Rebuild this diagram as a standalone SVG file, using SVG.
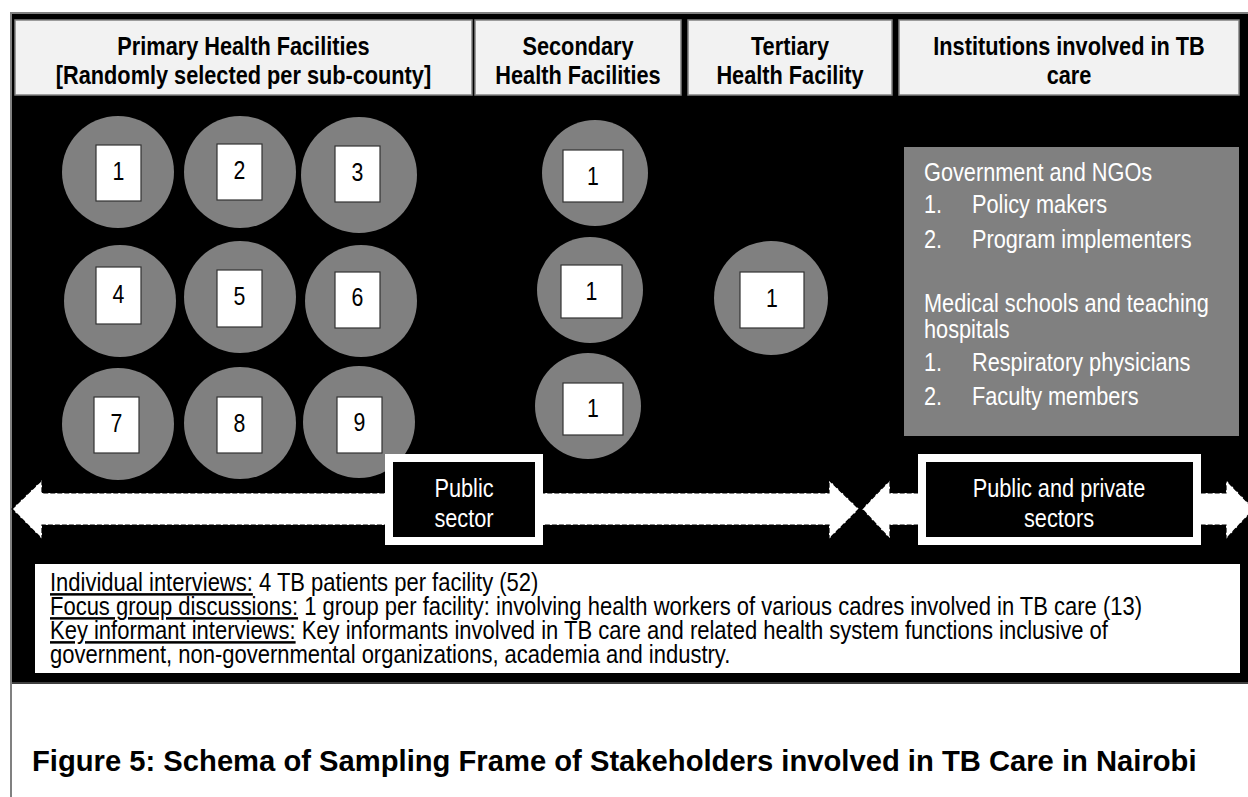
<svg xmlns="http://www.w3.org/2000/svg" width="1248" height="797" viewBox="0 0 1248 797">
<defs>
<style>
.hdr{fill:#f2f2f2;stroke:#808080;stroke-width:1.5;}
.htx{font-family:"Liberation Sans",Arial,sans-serif;font-weight:bold;font-size:26.5px;fill:#000;text-anchor:middle;}
.circ{fill:#808080;}
.nbox{fill:#fff;stroke:#333;stroke-width:1.2;}
.num{font-family:"Liberation Sans",Arial,sans-serif;font-size:26px;fill:#000;text-anchor:middle;}
.inst{font-family:"Liberation Sans",Arial,sans-serif;font-size:26.5px;fill:#fff;}
.arrow{fill:#fff;stroke:#000;stroke-width:1.2;stroke-dasharray:5 2;}
.sbox{fill:#000;stroke:#fff;stroke-width:8;}
.stx{font-family:"Liberation Sans",Arial,sans-serif;font-size:26.5px;fill:#fff;text-anchor:middle;}
.btx{font-family:"Liberation Sans",Arial,sans-serif;font-size:25px;fill:#000;}
.cap{font-family:"Liberation Sans",Arial,sans-serif;font-weight:bold;font-size:29.2px;fill:#000;}
</style>
<clipPath id="hclip"><rect x="12" y="20" width="1236" height="71"/></clipPath>
</defs>
<rect width="1248" height="797" fill="#fff"/>
<g id="frame">
<rect x="12" y="13" width="1236" height="670" fill="#000"/>
<line x1="10" y1="13" x2="1248" y2="13" stroke="#808080" stroke-width="2"/>
<line x1="11" y1="12" x2="11" y2="797" stroke="#808080" stroke-width="2"/>
<line x1="12" y1="683" x2="1248" y2="683" stroke="#404040" stroke-width="2"/>
</g>
<g id="header-primary">
<rect class="hdr" x="15" y="20" width="457" height="75"/>
<g clip-path="url(#hclip)">
<text class="htx" transform="translate(243.5,55) scale(0.82,1)">Primary Health Facilities</text>
<text class="htx" transform="translate(243.5,84) scale(0.82,1)">[Randomly selected per sub-county]</text>
</g>
</g>
<g id="header-secondary">
<rect class="hdr" x="475" y="20" width="206" height="75"/>
<g clip-path="url(#hclip)">
<text class="htx" transform="translate(578,55) scale(0.82,1)">Secondary</text>
<text class="htx" transform="translate(578,84) scale(0.82,1)">Health Facilities</text>
</g>
</g>
<g id="header-tertiary">
<rect class="hdr" x="688" y="20" width="204" height="75"/>
<g clip-path="url(#hclip)">
<text class="htx" transform="translate(790,55) scale(0.82,1)">Tertiary</text>
<text class="htx" transform="translate(790,84) scale(0.82,1)">Health Facility</text>
</g>
</g>
<g id="header-institutions">
<rect class="hdr" x="899" y="20" width="340" height="75"/>
<g clip-path="url(#hclip)">
<text class="htx" transform="translate(1069,55) scale(0.82,1)">Institutions involved in TB</text>
<text class="htx" transform="translate(1069,84) scale(0.82,1)">care</text>
</g>
</g>
<g id="primary-1"><circle class="circ" cx="118" cy="172" r="56"/><rect class="nbox" x="96" y="145" width="45" height="56"/><text class="num" transform="translate(118.5,180) scale(0.82,1)">1</text></g>
<g id="primary-2"><circle class="circ" cx="240" cy="172" r="56"/><rect class="nbox" x="217" y="144" width="45" height="56"/><text class="num" transform="translate(239.5,179) scale(0.82,1)">2</text></g>
<g id="primary-3"><circle class="circ" cx="359" cy="175" r="58"/><rect class="nbox" x="335" y="146" width="45" height="56"/><text class="num" transform="translate(357.5,181) scale(0.82,1)">3</text></g>
<g id="primary-4"><circle class="circ" cx="120" cy="301" r="56"/><rect class="nbox" x="96" y="267" width="45" height="57"/><text class="num" transform="translate(118.5,303) scale(0.82,1)">4</text></g>
<g id="primary-5"><circle class="circ" cx="240" cy="297" r="56"/><rect class="nbox" x="217" y="270" width="45" height="57"/><text class="num" transform="translate(239.5,305) scale(0.82,1)">5</text></g>
<g id="primary-6"><circle class="circ" cx="361" cy="301" r="56"/><rect class="nbox" x="335" y="272" width="45" height="56"/><text class="num" transform="translate(357.5,306) scale(0.82,1)">6</text></g>
<g id="primary-7"><circle class="circ" cx="118" cy="424" r="56"/><rect class="nbox" x="94" y="397" width="45" height="56"/><text class="num" transform="translate(116.5,432) scale(0.82,1)">7</text></g>
<g id="primary-8"><circle class="circ" cx="240" cy="423" r="56"/><rect class="nbox" x="217" y="397" width="45" height="56"/><text class="num" transform="translate(239.5,432) scale(0.82,1)">8</text></g>
<g id="primary-9"><circle class="circ" cx="359" cy="422" r="56"/><rect class="nbox" x="337" y="397" width="45" height="56"/><text class="num" transform="translate(359.5,431) scale(0.82,1)">9</text></g>
<g id="secondary-1"><circle class="circ" cx="595" cy="173" r="53"/><rect class="nbox" x="563" y="150" width="60" height="52"/><text class="num" transform="translate(593,185) scale(0.82,1)">1</text></g>
<g id="secondary-2"><circle class="circ" cx="590" cy="290" r="53"/><rect class="nbox" x="561" y="265" width="61" height="53"/><text class="num" transform="translate(591.5,300) scale(0.82,1)">1</text></g>
<g id="secondary-3"><circle class="circ" cx="588" cy="406" r="53"/><rect class="nbox" x="563" y="383" width="60" height="52"/><text class="num" transform="translate(593,417) scale(0.82,1)">1</text></g>
<g id="tertiary-1"><circle class="circ" cx="771" cy="298" r="57"/><rect class="nbox" x="740" y="272" width="64" height="56"/><text class="num" transform="translate(772,307) scale(0.82,1)">1</text></g>
<g id="institutions">
<rect x="904" y="147" width="335" height="289" fill="#808080"/>
<text class="inst" transform="translate(924,181) scale(0.82,1)">Government and NGOs</text>
<text class="inst" transform="translate(924,213) scale(0.82,1)">1.</text><text class="inst" transform="translate(972,213) scale(0.82,1)">Policy makers</text>
<text class="inst" transform="translate(924,248) scale(0.82,1)">2.</text><text class="inst" transform="translate(972,248) scale(0.82,1)">Program implementers</text>
<text class="inst" transform="translate(924,312) scale(0.82,1)">Medical schools and teaching</text>
<text class="inst" transform="translate(924,338) scale(0.82,1)">hospitals</text>
<text class="inst" transform="translate(924,371) scale(0.82,1)">1.</text><text class="inst" transform="translate(972,371) scale(0.82,1)">Respiratory physicians</text>
<text class="inst" transform="translate(924,405) scale(0.82,1)">2.</text><text class="inst" transform="translate(972,405) scale(0.82,1)">Faculty members</text>
</g>
<g id="connectors">
<polygon class="arrow" points="12,509 42,480 42,493 829,493 829,480 859,509 829,539 829,525 42,525 42,539"/>
<polygon class="arrow" points="862,509 890,480 890,493 1226,493 1226,480 1254,509 1226,539 1226,525 890,525 890,539"/>
</g>
<g id="public-sector">
<rect class="sbox" x="389" y="458" width="150" height="83"/>
<text class="stx" transform="translate(464,497) scale(0.82,1)">Public</text>
<text class="stx" transform="translate(464,527) scale(0.82,1)">sector</text>
</g>
<g id="public-private">
<rect class="sbox" x="922" y="458" width="275" height="83"/>
<text class="stx" transform="translate(1059,497) scale(0.82,1)">Public and private</text>
<text class="stx" transform="translate(1059,527) scale(0.82,1)">sectors</text>
</g>
<g id="methods">
<rect x="35" y="564" width="1205" height="109" fill="#fff"/>
<text class="btx" transform="translate(50,591) scale(0.88,1)"><tspan text-decoration="underline">Individual interviews:</tspan> 4 TB patients per facility (52)</text>
<text class="btx" transform="translate(50,615) scale(0.88,1)"><tspan text-decoration="underline">Focus group discussions:</tspan> 1 group per facility: involving health workers of various cadres involved in TB care (13)</text>
<text class="btx" transform="translate(50,639) scale(0.88,1)"><tspan text-decoration="underline">Key informant interviews:</tspan> Key informants involved in TB care and related health system functions inclusive of</text>
<text class="btx" transform="translate(50,663) scale(0.88,1)">government, non-governmental organizations, academia and industry.</text>
</g>
<g id="caption">
<text class="cap" x="32" y="771">Figure 5: Schema of Sampling Frame of Stakeholders involved in TB Care in Nairobi</text>
</g>
</svg>
